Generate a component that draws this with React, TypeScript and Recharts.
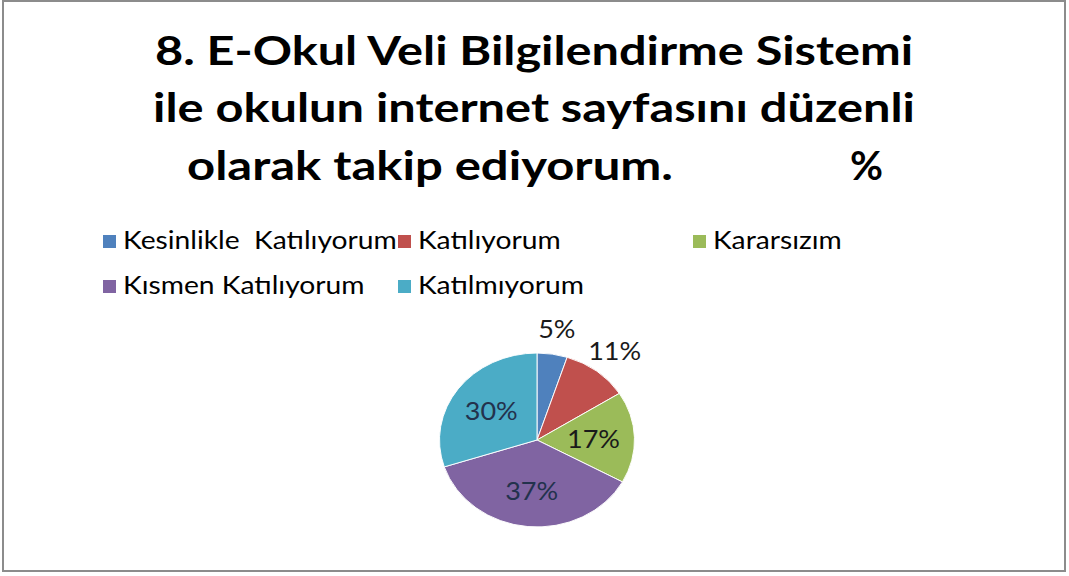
import { PieChart, Pie, Cell } from "recharts";

const categories = [
  "Kesinlikle  Katılıyorum",
  "Katılıyorum",
  "Kararsızım",
  "Kısmen Katılıyorum",
  "Katılmıyorum",
];
const percents = [5, 11, 17, 37, 30];
const colors = ["#4F81BD", "#C0504D", "#9BBB59", "#8064A2", "#4BACC6"];
const titleLines = [
  "8. E-Okul Veli Bilgilendirme Sistemi",
  "ile okulun internet sayfasını düzenli",
  "olarak takip ediyorum.",
];

const data = categories.map((name, i) => ({ name, value: percents[i] }));

const RADIAN = Math.PI / 180;

// small slices get their label outside the pie, bigger ones inside
const renderLabel = (props: any) => {
  const { cx, cy, midAngle, outerRadius, index } = props;
  const value = percents[index];
  const factor = value < 15 ? 1.3 : 0.58;
  const r = outerRadius * factor;
  const x = cx + r * Math.cos(-midAngle * RADIAN);
  const y = cy + r * Math.sin(-midAngle * RADIAN);
  return (
    <text
      x={x}
      y={y}
      textAnchor="middle"
      dominantBaseline="central"
      fontFamily="Lato, 'Open Sans', sans-serif"
      fontSize={27}
      fill={index >= 3 ? "#23324d" : "#1a1a1a"}
    >
      {value}%
    </text>
  );
};

export default function App() {
  const legendCols = [103, 398, 693];
  const legendRows = [235, 280];

  return (
    <div
      style={{
        position: "absolute",
        left: 0,
        top: 0,
        width: 1069,
        height: 576,
        background: "#fff",
        overflow: "hidden",
      }}
    >
      <svg
        width={1069}
        height={576}
        style={{ position: "absolute", left: 0, top: 0 }}
      >
        <rect
          x={3}
          y={1}
          width={1062}
          height={570}
          fill="#fff"
          stroke="#8c8c8c"
          strokeWidth={2}
        />
        <g fontFamily="Lato, 'Open Sans', sans-serif" fontWeight={700} fontSize={40} fill="#000">
          <text x={155} y={65} textLength={758} lengthAdjust="spacingAndGlyphs">
            {titleLines[0]}
          </text>
          <text x={153} y={122} textLength={762} lengthAdjust="spacingAndGlyphs">
            {titleLines[1]}
          </text>
          <text y={180}>
            <tspan x={187} textLength={486} lengthAdjust="spacingAndGlyphs">
              {titleLines[2]}
            </tspan>
            <tspan x={850} textLength={33} lengthAdjust="spacingAndGlyphs">
              %
            </tspan>
          </text>
        </g>
        <g fontFamily="Lato, 'Open Sans', sans-serif" fontSize={25} fill="#000">
          {categories.map((name, i) => {
            const x = legendCols[i % 3];
            const y = legendRows[Math.floor(i / 3)];
            return (
              <g key={name}>
                <rect x={x} y={y} width={13} height={13} fill={colors[i]} />
                <text
                  transform={`translate(${x + 20},${y + 14}) scale(1.13,1)`}
                  style={{ whiteSpace: "pre" }}
                  xmlSpace="preserve"
                >
                  {name}
                </text>
              </g>
            );
          })}
        </g>
      </svg>
      <div
        style={{
          position: "absolute",
          left: 387,
          top: 280,
          width: 300,
          height: 320,
          transform: "scaleY(0.892)",
          transformOrigin: "150px 160px",
        }}
      >
        <PieChart width={300} height={320} margin={{ top: 0, right: 0, bottom: 0, left: 0 }}>
          <Pie
            data={data}
            dataKey="value"
            nameKey="name"
            cx={150}
            cy={160}
            outerRadius={97.5}
            startAngle={90}
            endAngle={-270}
            stroke="#ffffff"
            strokeWidth={1}
            label={renderLabel}
            labelLine={false}
            isAnimationActive={false}
          >
            {data.map((d, i) => (
              <Cell key={d.name} fill={colors[i]} />
            ))}
          </Pie>
        </PieChart>
      </div>
    </div>
  );
}
